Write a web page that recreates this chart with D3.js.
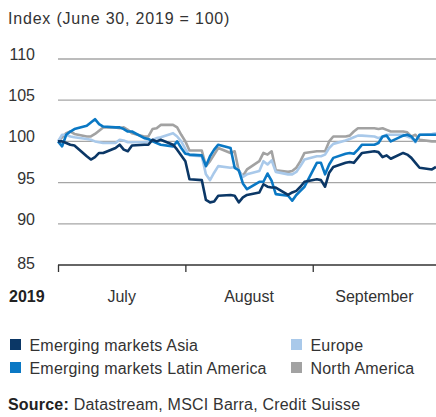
<!DOCTYPE html>
<html>
<head>
<meta charset="utf-8">
<script src="https://cdn.jsdelivr.net/npm/d3@7"></script>
<style>
  body { margin: 0; background: #fff; }
  svg text { font-family: "Liberation Sans", Arial, sans-serif; fill: #333; }
</style>
</head>
<body>
<div id="chart"></div>
<script>
// index values, one per weekday from Jul 1 to Oct 1 2019
var asia = [
  100, 100.0, 99.8, 99.6, 99.5,
  98.2, 97.8, 98.1, 98.6, 98.6,
  99.2, 99.6, 99.0, 98.8, 99.5,
  99.6, 99.6, 100.2, 100.0, 100.2,
  99.6, 99.0, 98.3, 97.6, 95.4,
  95.3, 92.9, 92.6, 92.7, 93.4,
  93.5, 93.4, 92.6, 93.2, 93.5,
  93.8, 94.8, 94.5, 94.4, 94.4,
  93.5, 93.8, 94.0, 94.5, 95.1,
  95.4, 95.3, 94.5, 96.2, 96.9,
  97.4, 97.5, 97.4, 98.0, 98.6,
  98.8, 98.7, 98.1, 98.3, 97.9,
  98.6, 98.4, 98.0, 97.4, 96.8,
  96.6, 96.9
];
var latam = [
  100, 99.4, 100.8, 101.2, 101.5,
  101.9, 102.3, 102.7, 102.1, 101.8,
  101.7, 101.7, 101.5, 101.2, 101.2,
  100.4, 100.3, 100.0, 99.8, 99.6,
  99.4, 100.0, 99.2, 98.5, 98.4,
  98.3, 97.0, 98.2, 99.0, 99.6,
  99.2, 96.8, 96.5, 94.9, 94.2,
  95.1, 95.1, 96.1, 95.2, 93.6,
  93.4, 92.8, 93.5, 94.0, 94.5,
  97.4, 97.4, 96.0, 97.2, 98.0,
  98.5, 98.6, 98.5, 99.0, 99.6,
  99.6, 99.8, 100.6, 100.7, 100.0,
  100.7, 100.8, 100.6, 100.0, 100.8,
  100.8, 100.8
];
var europe = [
  100, 100.8, 100.8, 100.6, 100.5,
  100.3, 100.2, 100.0, 99.9, 99.8,
  99.8, 100.2, 100.1, 99.9, 99.9,
  99.9, 100.0, 100.2, 100.4, 100.5,
  101.0, 100.6, 100.0, 99.1, 98.3,
  98.2, 96.0, 95.3, 96.2, 97.0,
  96.8, 96.9, 96.5, 95.7, 96.0,
  96.4, 97.6, 97.2, 97.7, 96.3,
  96.0, 96.0, 96.3, 97.0, 97.8,
  98.2, 98.2, 98.4, 99.2, 99.7,
  100.1, 100.3, 100.5, 100.7, 100.7,
  100.6, 100.4, 100.6, 100.8, 100.8,
  100.8, 100.6, 100.4, 99.9, 100.8,
  100.9, 101.0
];
var namerica = [
  100, 100.5, 101.0, 101.2, 100.9,
  100.6, 100.6, 100.9, 101.3, 101.7,
  101.7, 101.6, 101.7, 101.4, 101.0,
  100.6, 100.6, 101.5, 101.6, 102.0,
  102.0, 101.7, 100.8, 100.0, 98.9,
  98.9, 97.0, 97.6, 98.4, 99.2,
  98.6, 98.8, 96.4, 95.8, 96.6,
  97.6, 98.6, 98.4, 98.8, 96.5,
  96.3, 96.4, 96.8, 97.6, 98.6,
  98.8, 98.8, 98.8, 100.0, 100.6,
  100.6, 100.7, 101.2, 101.6, 101.6,
  101.6, 101.5, 101.6, 101.4, 101.2,
  101.2, 101.1, 100.6, 100.8, 100.2,
  100.0, 100.0
];
var yTicks = [85, 90, 95, 100, 105, 110];
var monthLabels = ["July", "August", "September"];

var series = [
  {name: "North America", values: namerica, color: "#a2a2a2"},
  {name: "Europe", values: europe, color: "#a9c9ea"},
  {name: "Emerging markets Latin America", values: latam, color: "#0a78c4"},
  {name: "Emerging markets Asia", values: asia, color: "#0b3766"}
];

var startDate = new Date(2019, 6, 1), endDate = new Date(2019, 9, 1);
var dates = d3.timeDay.range(startDate, new Date(2019, 9, 2))
  .filter(function(d){ return d.getDay() != 0 && d.getDay() != 6; });

var width = 436, height = 417;
var plotLeft = 58, plotRight = 436, plotTop = 59, plotBottom = 265;

var svg = d3.select("#chart").append("svg")
  .attr("width", width)
  .attr("height", height);

var x = d3.scaleTime().domain([startDate, endDate]).range([plotLeft, plotRight]);
var y = d3.scaleLinear().domain([85, 110]).range([plotBottom, plotTop]);

svg.append("text")
  .attr("x", 8)
  .attr("y", 24)
  .style("font-size", "16px")
  .style("letter-spacing", "0.8px")
  .text("Index (June 30, 2019 = 100)");

// gridlines
svg.selectAll("line.grid")
  .data(yTicks.filter(function(d){ return d > 85; }))
  .enter()
  .append("line")
  .attr("class", "grid")
  .attr("x1", plotLeft)
  .attr("x2", plotRight)
  .attr("y1", function(d){ return y(d); })
  .attr("y2", function(d){ return y(d); })
  .style("stroke", "#a6a6a6")
  .style("stroke-width", 1.3);

svg.selectAll("text.ytick")
  .data(yTicks)
  .enter()
  .append("text")
  .attr("class", "ytick")
  .attr("x", 35)
  .attr("y", function(d){ return y(d) + (d == 85 ? 4 : 1); })
  .attr("text-anchor", "end")
  .style("font-size", "16px")
  .text(function(d){ return d; });

// x axis
var months = [new Date(2019, 6, 1), new Date(2019, 7, 1), new Date(2019, 8, 1), endDate];
var xAxis = svg.append("g")
  .attr("transform", "translate(0," + plotBottom + ")")
  .call(d3.axisBottom(x).tickValues(months.slice(0, 3)).tickSize(7).tickFormat(""));
xAxis.select(".domain").attr("d", "M" + plotLeft + ",0H" + plotRight).style("stroke", "#333").style("stroke-width", 1.3);
xAxis.selectAll(".tick line").style("stroke", "#333").style("stroke-width", 1.3);

svg.selectAll("text.month")
  .data(monthLabels)
  .enter()
  .append("text")
  .attr("class", "month")
  .attr("x", function(d, i){ return (x(months[i]) + x(months[i + 1])) / 2; })
  .attr("y", 302)
  .attr("text-anchor", "middle")
  .style("font-size", "16px")
  .text(function(d){ return d; });

svg.append("text")
  .attr("x", 9)
  .attr("y", 302)
  .style("font-size", "16px")
  .style("font-weight", "bold")
  .style("fill", "#222")
  .text("2019");

var line = d3.line()
  .x(function(d, i){ return x(dates[i]); })
  .y(function(d){ return y(d); });

svg.selectAll("path.series")
  .data(series)
  .enter()
  .append("path")
  .attr("class", "series")
  .attr("d", function(d){ return line(d.values); })
  .style("fill", "none")
  .style("stroke", function(d){ return d.color; })
  .style("stroke-width", 2.6)
  .style("stroke-linejoin", "round");

// legend
var legendItems = [
  {s: series[3], x: 10, y: 351},
  {s: series[2], x: 10, y: 374},
  {s: series[1], x: 291, y: 351},
  {s: series[0], x: 291, y: 374}
];
var legend = svg.selectAll("g.legend")
  .data(legendItems)
  .enter()
  .append("g")
  .attr("class", "legend")
  .attr("transform", function(d){ return "translate(" + d.x + "," + d.y + ")"; });

legend.append("rect")
  .attr("x", 0)
  .attr("y", -12)
  .attr("width", 11)
  .attr("height", 11)
  .style("fill", function(d){ return d.s.color; });

legend.append("text")
  .attr("x", 19.5)
  .attr("y", 0)
  .style("font-size", "16px")
  .style("letter-spacing", "0.2px")
  .text(function(d){ return d.s.name; });

var src = svg.append("text")
  .attr("x", 8)
  .attr("y", 410)
  .style("font-size", "16px")
  .style("letter-spacing", "0.2px");
src.append("tspan").style("font-weight", "bold").style("fill", "#222").text("Source:");
src.append("tspan").text(" Datastream, MSCI Barra, Credit Suisse");
</script>
</body>
</html>
